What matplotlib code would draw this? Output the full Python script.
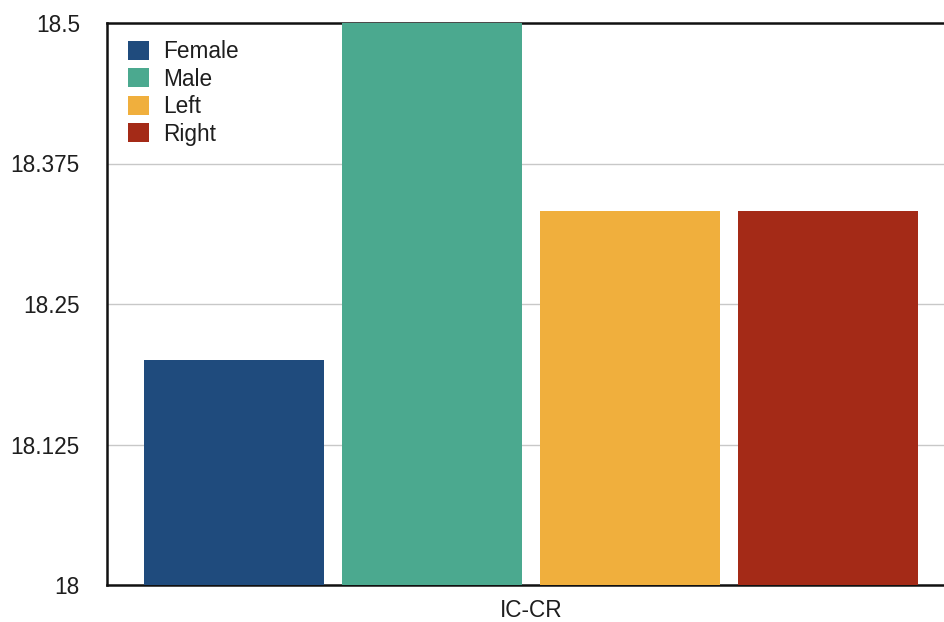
import matplotlib
matplotlib.use("Agg")
import matplotlib.pyplot as plt

plt.rcParams['font.family'] = ['Liberation Sans', 'DejaVu Sans']

category = "IC-CR"
series_names = ["Female", "Male", "Left", "Right"]
series_values = [18.2, 18.5, 18.333, 18.333]
series_colors = ["#1f4b7d", "#4ba98f", "#f0af3d", "#a42a17"]
y_ticks = [18, 18.125, 18.25, 18.375, 18.5]
y_tick_labels = ["18", "18.125", "18.25", "18.375", "18.5"]

fig = plt.figure(figsize=(9.44, 6.22), dpi=100)
ax = fig.add_axes([107 / 944, 37 / 622, 848 / 944, 562 / 622])

step = 1.0
width = 0.91
offsets = [(i - (len(series_names) - 1) / 2) * step for i in range(len(series_names))]
for off, name, val, col in zip(offsets, series_names, series_values, series_colors):
    ax.bar(off, val - 18, bottom=18, width=width, color=col, label=name, zorder=3)

ax.set_ylim(18, 18.5)
ax.set_xlim(-2.14, 2.14)
ax.set_yticks(y_ticks)
ax.set_yticklabels(y_tick_labels)
ax.set_xticks([0])
ax.set_xticklabels([category])
ax.tick_params(axis='both', length=0, labelsize=16.3, colors='#1e1e1e')
ax.tick_params(axis='y', pad=19.5)
ax.tick_params(axis='x', pad=10)

ax.yaxis.grid(True, color='#c8c8c8', linewidth=1.0, zorder=0)
ax.set_axisbelow(True)
for side in ['left', 'bottom', 'top']:
    ax.spines[side].set_linewidth(1.8)
    ax.spines[side].set_color('#111111')
ax.spines['right'].set_visible(False)

leg = ax.legend(loc='upper left', frameon=False, fontsize=16.3,
                handlelength=0.93, handleheight=0.9, handletextpad=0.62,
                labelspacing=0.2, borderaxespad=0.0, borderpad=0.0,
                bbox_to_anchor=(21 / 848, 1 - 17 / 562))
for t in leg.get_texts():
    t.set_color('#1e1e1e')

fig.savefig("out.png", dpi=100, facecolor='white')
